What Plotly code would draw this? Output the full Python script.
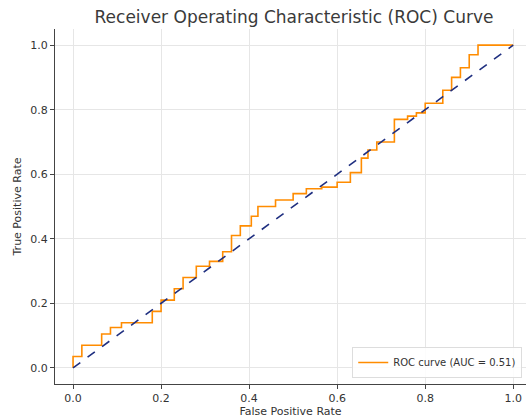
import plotly.graph_objects as go

# ROC curve corner points
fpr = [0.0, 0.0, 0.02, 0.02, 0.065, 0.065, 0.085, 0.085, 0.11, 0.11, 0.18, 0.18,
       0.20, 0.20, 0.23, 0.23, 0.25, 0.25, 0.28, 0.28, 0.31, 0.31, 0.34, 0.34,
       0.36, 0.36, 0.38, 0.38, 0.405, 0.405, 0.42, 0.42, 0.46, 0.46, 0.50, 0.50,
       0.53, 0.53, 0.565, 0.565, 0.60, 0.60, 0.63, 0.63, 0.655, 0.655, 0.67, 0.67,
       0.69, 0.69, 0.73, 0.73, 0.76, 0.76, 0.78, 0.78, 0.80, 0.80, 0.84, 0.84,
       0.86, 0.86, 0.88, 0.88, 0.90, 0.90, 0.92, 0.92, 1.0]
tpr = [0.0, 0.035, 0.035, 0.07, 0.07, 0.105, 0.105, 0.125, 0.125, 0.14, 0.14, 0.175,
       0.175, 0.21, 0.21, 0.245, 0.245, 0.28, 0.28, 0.315, 0.315, 0.33, 0.33, 0.36,
       0.36, 0.41, 0.41, 0.44, 0.44, 0.47, 0.47, 0.50, 0.50, 0.52, 0.52, 0.54,
       0.54, 0.555, 0.555, 0.56, 0.56, 0.575, 0.575, 0.605, 0.605, 0.65, 0.65, 0.675,
       0.675, 0.70, 0.70, 0.77, 0.77, 0.78, 0.78, 0.79, 0.79, 0.82, 0.82, 0.86,
       0.86, 0.90, 0.90, 0.93, 0.93, 0.97, 0.97, 1.0, 1.0]
auc_value = 0.51
diag_x = [0, 1]
diag_y = [0, 1]
tick_vals = [0.0, 0.2, 0.4, 0.6, 0.8, 1.0]
tick_text = ["0.0", "0.2", "0.4", "0.6", "0.8", "1.0"]

fig = go.Figure()
fig.add_trace(go.Scatter(x=fpr, y=tpr, mode="lines",
                         line=dict(color="#FF8C00", width=1.6),
                         name=f"ROC curve (AUC = {auc_value:.2f})"))
fig.add_trace(go.Scatter(x=diag_x, y=diag_y, mode="lines",
                         line=dict(color="#1f2f80", width=1.6, dash="dash"),
                         showlegend=False))

axis_common = dict(showgrid=True, gridcolor="#e6e6e6", gridwidth=1,
                   zeroline=False, showline=True, linecolor="#444444", linewidth=1,
                   ticks="outside", ticklen=4, tickcolor="#444444",
                   tickfont=dict(family="DejaVu Sans", size=11, color="#333333"),
                   tickvals=tick_vals, ticktext=tick_text, mirror=False,
                   automargin=False)

fig.update_layout(
    width=526, height=420,
    margin=dict(l=55, r=0, t=29, b=36),
    paper_bgcolor="white", plot_bgcolor="white",
    font=dict(family="DejaVu Sans", color="#333333"),
    title=dict(text="Receiver Operating Characteristic (ROC) Curve",
               font=dict(family="DejaVu Sans", size=17, color="#3a3a3a"),
               x=294/526, xanchor="center", xref="container",
               y=1 - 17/420, yanchor="middle", yref="container",
               automargin=False),
    xaxis=dict(range=[-0.041, 1.029],
               title=dict(text="False Positive Rate", standoff=3,
                          font=dict(family="DejaVu Sans", size=11, color="#333333")),
               **axis_common),
    yaxis=dict(range=[-0.05, 1.05],
               title=dict(text="True Positive Rate", standoff=6,
                          font=dict(family="DejaVu Sans", size=11, color="#333333")),
               **axis_common),
    legend=dict(x=0.992, y=0.017, xanchor="right", yanchor="bottom",
                bgcolor="rgba(255,255,255,0.85)", bordercolor="#dddddd", borderwidth=1,
                font=dict(family="DejaVu Sans", size=10, color="#333333")),
    showlegend=True,
)

fig.write_html("out.html", config={"displayModeBar": False},
               post_script="document.body.style.margin='0';document.body.style.padding='0';")
